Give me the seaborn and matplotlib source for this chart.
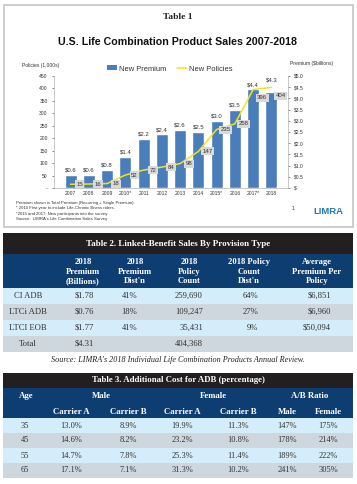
import matplotlib
matplotlib.use("Agg")
import matplotlib.pyplot as plt
from matplotlib.patches import Rectangle, Patch
from matplotlib.lines import Line2D
import numpy as np
import seaborn as sns

# Table 1 chart data
years = ["2007", "2008", "2009", "2010*", "2011", "2012", "2013", "2014",
         "2015*", "2016", "2017*", "2018"]
premium = [0.6, 0.6, 0.8, 1.4, 2.2, 2.4, 2.6, 2.5, 3.0, 3.5, 4.4, 4.3]
policies = [15, 16, 18, 52, 72, 84, 98, 147, 235, 258, 396, 404]

footnotes = [
    "Premium shown is Total Premium (Recurring + Single Premium).",
    "* 2010 First year to include Life-Chronic Illness riders.",
    "*2015 and 2017: New participants into the survey.",
    "Source:  LIMRA's Life Combination Sales Survey",
]

# Table 2 data
t2_rows = ["CI ADB", "LTCi ADB", "LTCI EOB", "Total"]
t2_headers = ["2018\nPremium\n(Billions)", "2018\nPremium\nDist'n", "2018\nPolicy\nCount",
              "2018 Policy\nCount\nDist'n", "Average\nPremium Per\nPolicy"]
t2_premium = ["$1.78", "$0.76", "$1.77", "$4.31"]
t2_prem_dist = ["41%", "18%", "41%", ""]
t2_count = ["259,690", "109,247", "35,431", "404,368"]
t2_count_dist = ["64%", "27%", "9%", ""]
t2_avg = ["$6,851", "$6,960", "$50,094", ""]

# Table 3 data
t3_groups = ["Male", "Female", "A/B Ratio"]
t3_sub = ["Carrier A", "Carrier B", "Carrier A", "Carrier B", "Male", "Female"]
t3_ages = [35, 45, 55, 65]
t3_male_a = [13.0, 14.6, 14.7, 17.1]
t3_male_b = [8.9, 8.2, 7.8, 7.1]
t3_female_a = [19.9, 23.2, 25.3, 31.3]
t3_female_b = [11.3, 10.8, 11.4, 10.2]
t3_ratio_male = [147, 178, 189, 241]
t3_ratio_female = [175, 214, 222, 305]

sns.set_style("white")
plt.rcParams["font.family"] = ["Liberation Sans", "DejaVu Sans"]

BLUE_BAR = "#4a7ebb"
YELLOW = "#f2e41c"
BLACK = "#231f20"
NAVY = "#0e3e71"
LIGHT = "#d4edfa"
GRAY = "#cfd7de"
SERIF = ["Liberation Serif", "DejaVu Serif"]

W, H = 357, 484
fig = plt.figure(figsize=(W / 100, H / 100), dpi=100)
fig.patch.set_facecolor("white")

# overlay in pixel units for frame, texts and tables
bg = fig.add_axes([0, 0, 1, 1])
bg.set_xlim(0, W)
bg.set_ylim(H, 0)
bg.axis("off")

# ---------- Table 1: chart ----------
bg.add_patch(Rectangle((4, 5), 349, 222, fc="none", ec="#c9c9c9", lw=1.3))
bg.text(178, 17, "Table 1", ha="center", va="center", fontsize=6.8,
        fontweight="bold", family=SERIF, color="#222222")
bg.text(178, 42, "U.S. Life Combination Product Sales 2007-2018", ha="center",
        va="center", fontsize=7.7, fontweight="bold", color="#111111")
bg.text(22, 66, "Policies (1,000s)", ha="left", va="center", fontsize=3.6, color="#333333")
bg.text(333, 64, "Premium ($billions)", ha="right", va="center", fontsize=3.6, color="#333333")

ax = fig.add_axes([54 / W, 1 - 188 / H, 234 / W, 112 / H])
sns.barplot(x=years, y=premium, color=BLUE_BAR, saturation=1, width=0.65, ax=ax)
# last label sits higher, above the policies line
bar_txt = [f"${v:.1f}" for v in premium]
ax.bar_label(ax.containers[0], labels=bar_txt[:-1] + [""],
             padding=1.5, fontsize=4.3, color="#333333")
ax.bar_label(ax.containers[0], labels=[""] * (len(premium) - 1) + bar_txt[-1:],
             padding=6.5, fontsize=4.3, color="#333333")
ax.set_xlabel("")
ax.set_ylabel("")

ax2 = ax.twinx()
sns.lineplot(x=years, y=policies, sort=False, color=YELLOW, lw=1.1, ax=ax2)

# premium axis on the right (bars), policies axis on the left (line)
ax.set_ylim(0, 5.0)
prem_ticks = np.arange(0, 5.01, 0.5)
ax.set_yticks(prem_ticks)
ax.set_yticklabels(["$-" if t == 0 else f"${t:.1f}" for t in prem_ticks])
ax.yaxis.tick_right()
ax.tick_params(axis="x", labelsize=3.6, length=0, pad=2.5, colors="#333333")
ax.tick_params(axis="y", labelsize=3.6, length=1.5, width=0.4, pad=3,
               colors="#333333")
for side in ["top", "left"]:
    ax.spines[side].set_visible(False)
for side in ["bottom", "right"]:
    ax.spines[side].set_visible(True)
    ax.spines[side].set_color("#b0b0b0")
    ax.spines[side].set_linewidth(0.5)

ax2.set_ylim(0, 450)
pol_ticks = np.arange(0, 451, 50)
ax2.set_yticks(pol_ticks)
ax2.set_yticklabels(["-" if t == 0 else str(t) for t in pol_ticks])
ax2.yaxis.tick_left()
ax2.set_ylabel("")
ax2.tick_params(axis="y", labelsize=3.6, length=1.5, width=0.4, pad=3,
                colors="#333333")
for side in ["top", "right", "bottom"]:
    ax2.spines[side].set_visible(False)
ax2.spines["left"].set_visible(True)
ax2.spines["left"].set_color("#b0b0b0")
ax2.spines["left"].set_linewidth(0.5)
for i, v in enumerate(policies):
    dy = -6 if v > 300 else 0
    ax2.annotate(str(v), xy=(i, v), xytext=(6.5, dy), textcoords="offset points",
                 ha="center", va="center", fontsize=4.3, color="#333333",
                 bbox=dict(boxstyle="square,pad=0.25", fc="#d9d9d9", ec="none"))

handles = [Patch(fc=BLUE_BAR, ec="none"), Line2D([], [], color=YELLOW, lw=1.1)]
fig.legend(handles, ["New Premium", "New Policies"], loc="center",
           bbox_to_anchor=(170 / W, 1 - 69 / H), ncol=2, frameon=False,
           fontsize=5.4, handlelength=1.3, handleheight=0.6, handletextpad=0.3,
           columnspacing=1.4, labelcolor="#333333")

for k, note in enumerate(footnotes):
    bg.text(16, 203 + k * 5.4, note, ha="left", va="center", fontsize=3.1, color="#333333")
bg.text(293, 209, "1", ha="center", va="center", fontsize=3.6, color="#333333")
bg.text(328, 212, "LIMRA", ha="center", va="center", fontsize=6.8,
        fontweight="bold", color="#2478b8")

# ---------- Table 2 ----------
L, R = 3, 353
bg.add_patch(Rectangle((L, 233), R - L, 21, fc=BLACK, ec="none"))
bg.text(178, 243.5, "Table 2. Linked-Benefit Sales By Provision Type", ha="center",
        va="center", fontsize=6.5, fontweight="bold", family=SERIF, color="white")
bg.add_patch(Rectangle((L, 254), R - L, 34, fc=NAVY, ec="none"))
t2_head_x = [83, 135, 189, 249, 317]
for x, h in zip(t2_head_x, t2_headers):
    bg.text(x, 271.5, h, ha="center", va="center", multialignment="center",
            fontsize=6.2, fontweight="bold", family=SERIF, color="white",
            linespacing=1.22)
t2_cols = [t2_premium, t2_prem_dist, t2_count, t2_count_dist, t2_avg]
t2_right_x = [94, 137, 203, 258, 331]
for r, name in enumerate(t2_rows):
    y0 = 288 + r * 16
    bg.add_patch(Rectangle((L, y0), R - L, 16, fc=LIGHT if r % 2 == 0 else GRAY, ec="none"))
    bg.text(28, y0 + 8, name, ha="center", va="center", fontsize=6.2,
            family=SERIF, color="#333333")
    for x, col in zip(t2_right_x, t2_cols):
        bg.text(x, y0 + 8, col[r], ha="right", va="center", fontsize=6.2,
                family=SERIF, color="#333333")
bg.text(178, 359.5,
        "Source: LIMRA's 2018 Individual Life Combination Products Annual Review.",
        ha="center", va="center", fontsize=5.9, style="italic", family=SERIF,
        color="#222222")

# ---------- Table 3 ----------
bg.add_patch(Rectangle((L, 373), R - L, 15, fc=BLACK, ec="none"))
bg.text(178, 380.5, "Table 3. Additional Cost for ADB (percentage)", ha="center",
        va="center", fontsize=6.3, fontweight="bold", family=SERIF, color="white")
bg.add_patch(Rectangle((L, 388), R - L, 30, fc=NAVY, ec="none"))
bg.text(26, 396, "Age", ha="center", va="center", fontsize=6.3, fontweight="bold",
        family=SERIF, color="white")
for x, g in zip([101.5, 213, 310], t3_groups):
    bg.text(x, 396, g, ha="center", va="center", fontsize=6.3, fontweight="bold",
            family=SERIF, color="white")
t3_x = [71.5, 128, 182.5, 238.5, 287, 328]
for x, s in zip(t3_x, t3_sub):
    bg.text(x, 411.5, s, ha="center", va="center", fontsize=6.3, fontweight="bold",
            family=SERIF, color="white")
t3_cols = [[f"{v:.1f}%" for v in t3_male_a], [f"{v:.1f}%" for v in t3_male_b],
           [f"{v:.1f}%" for v in t3_female_a], [f"{v:.1f}%" for v in t3_female_b],
           [f"{v}%" for v in t3_ratio_male], [f"{v}%" for v in t3_ratio_female]]
for r, age in enumerate(t3_ages):
    y0 = 418 + r * 15
    bg.add_patch(Rectangle((L, y0), R - L, 15, fc=LIGHT if r % 2 == 0 else GRAY, ec="none"))
    bg.text(25, y0 + 7.5, str(age), ha="center", va="center", fontsize=6.0,
            family=SERIF, color="#333333")
    for x, col in zip(t3_x, t3_cols):
        bg.text(x, y0 + 7.5, col[r], ha="center", va="center", fontsize=6.0,
                family=SERIF, color="#333333")

fig.savefig("out.png", dpi=100)
